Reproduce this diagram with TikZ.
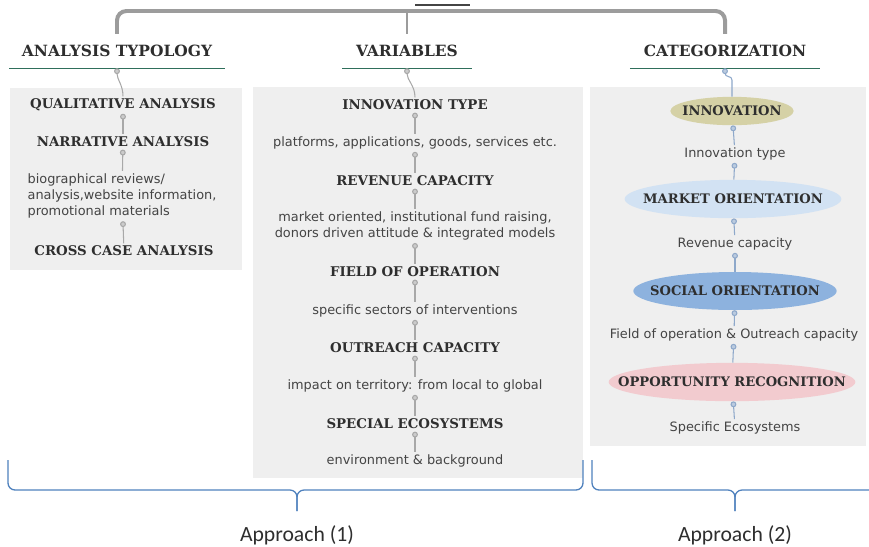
\documentclass[tikz,border=0pt]{standalone}
\usepackage{fontspec}
\setmainfont{DejaVu Sans}
\newfontfamily\serifbold{DejaVu Serif}
\newfontfamily\calibri{Carlito}
\usetikzlibrary{shapes.geometric,arrows.meta}

\definecolor{testo}{HTML}{2E2E2E}
\definecolor{grigio}{HTML}{444444}
\definecolor{pannello}{HTML}{EFEFEF}
\definecolor{barra}{HTML}{9C9C9C}
\definecolor{sottolinea}{HTML}{2F6F5B}
\definecolor{perno}{HTML}{A8A8A8}
\definecolor{pernoblu}{HTML}{8EA8CA}
\definecolor{graffa}{HTML}{4F81BD}
\definecolor{oliva}{HTML}{D5D1A6}
\definecolor{celeste}{HTML}{D2E2F3}
\definecolor{blu}{HTML}{8DB2DE}
\definecolor{rosa}{HTML}{F2CBCF}

\tikzset{
  titolo/.style={font=\serifbold\bfseries\fontsize{13.2}{15}\selectfont, text=testo,
    minimum height=1.02cm, inner sep=0pt},
  voce/.style={font=\serifbold\bfseries\fontsize{11.4}{13}\selectfont, text=testo, inner sep=2pt},
  nota/.style={font=\fontsize{11}{14}\selectfont, text=grigio, align=center, inner sep=2pt},
  ovale/.style={ellipse, voce, font=\serifbold\bfseries\fontsize{11.2}{13}\selectfont,
    inner xsep=-30pt, inner ysep=0pt},
  perno/.style={draw=perno, line width=0.9pt, {Circle[length=5pt,fill=perno!60]}-},
  pernoblu/.style={perno, draw=pernoblu, {Circle[length=5pt,fill=pernoblu!60]}-},
  graffa/.style={draw=graffa, line width=1.1pt, rounded corners=6pt},
}

\begin{document}
\begin{tikzpicture}[x=0.03cm, y=-0.03cm]
              \useasboundingbox (0,0) rectangle (869,546);

              \fill[pannello] (10,88) rectangle (242,270);
              \fill[pannello] (253,87) rectangle (583,478);
              \fill[pannello] (590,87) rectangle (866,446);

              \node [fill=grigio, minimum width=1.65cm, minimum height=0.06cm, inner sep=0pt] (radice) at (442,5) {};
              \coordinate (snodo) at (442,11);

              \node [titolo, minimum width=6.45cm] (titolo1) at (117,51) {ANALYSIS TYPOLOGY};
              \node [titolo, minimum width=3.87cm] (titolo2) at (407,51) {VARIABLES};
              \node [titolo, minimum width=5.7cm] (titolo3) at (725,51) {CATEGORIZATION};

              \node [voce] (analisi1) at (123,105) {QUALITATIVE ANALYSIS};
              \node [voce] (analisi2) at (123,142) {NARRATIVE ANALYSIS};
              \node [nota, align=left] (analisi3) at (122,196) {biographical reviews/\\analysis,website information,\\promotional materials};
              \node [voce] (analisi4) at (124,251) {CROSS CASE ANALYSIS};

              \node [voce] (variabile1) at (415,105) {INNOVATION TYPE};
              \node [nota] (variabile2) at (415,143) {platforms, applications, goods, services etc.};
              \node [voce] (variabile3) at (415,181) {REVENUE CAPACITY};
              \node [nota] (variabile4) at (415,226) {market oriented, institutional fund raising,\\donors driven attitude \& integrated models};
              \node [voce] (variabile5) at (415,272) {FIELD OF OPERATION};
              \node [nota] (variabile6) at (415,311) {specific sectors of interventions};
              \node [voce] (variabile7) at (415,348) {OUTREACH CAPACITY};
              \node [nota] (variabile8) at (415,386) {impact on territory: from local to global};
              \node [voce] (variabile9) at (415,424) {SPECIAL ECOSYSTEMS};
              \node [nota] (variabile10) at (415,461) {environment \& background};

              \node [ovale, fill=oliva, minimum width=3.7cm, minimum height=0.85cm] (categoria1) at (732,111) {INNOVATION};
              \node [nota] (categoria2) at (735,154) {Innovation type};
              \node [ovale, fill=celeste, minimum width=6.5cm, minimum height=1.15cm] (categoria3) at (733,199) {MARKET ORIENTATION};
              \node [nota] (categoria4) at (735,244) {Revenue capacity};
              \node [ovale, fill=blu, minimum width=6.1cm, minimum height=1.14cm] (categoria5) at (735,291) {SOCIAL ORIENTATION};
              \node [nota] (categoria6) at (734,335) {Field of operation \& Outreach capacity};
              \node [ovale, fill=rosa, minimum width=7.4cm, minimum height=1.15cm] (categoria7) at (732,382) {OPPORTUNITY RECOGNITION};
              \node [nota] (categoria8) at (735,428) {Specific Ecosystems};

              \node [font=\calibri\fontsize{18.5}{20}\selectfont, text=testo] (approccio1) at (297,535) {Approach (1)};
              \node [font=\calibri\fontsize{18.5}{20}\selectfont, text=testo] (approccio2) at (735,535) {Approach (2)};

              \coordinate (graffa1a) at (8,460);
              \coordinate (graffa1b) at (583,460);
              \coordinate (graffa2a) at (592,460);
              \coordinate (graffa2b) at (869,490);

              \draw [draw=barra, line width=3.4pt, rounded corners=8pt] (titolo1.north) |- (snodo) -| (titolo3.north);
              \draw [draw=barra, line width=0.9pt] (titolo2.north |- snodo) -- (titolo2.north);

              \draw [draw=sottolinea, line width=1pt] (titolo1.south west) -- (titolo1.south east);
              \draw [draw=sottolinea, line width=1pt] (titolo2.south west) -- (titolo2.south east);
              \draw [draw=sottolinea, line width=1pt] (titolo3.south west) -- (titolo3.south east);

              \draw [perno] (titolo1.south) to[out=-90, in=90] (analisi1);
              \draw [perno] (analisi1) -- (analisi2);
              \draw [perno] (analisi2) -- (analisi3);
              \draw [perno] (analisi3) -- (analisi4);

              \draw [perno] (titolo2.south) to[out=-90, in=90] (variabile1);
              \draw [perno] (variabile1) -- (variabile2);
              \draw [perno] (variabile2) -- (variabile3);
              \draw [perno] (variabile3) -- (variabile4);
              \draw [perno] (variabile4) -- (variabile5);
              \draw [perno] (variabile5) -- (variabile6);
              \draw [perno] (variabile6) -- (variabile7);
              \draw [perno] (variabile7) -- (variabile8);
              \draw [perno] (variabile8) -- (variabile9);
              \draw [perno] (variabile9) -- (variabile10);

              \draw [pernoblu, rounded corners=3pt] (titolo3.south) |- ([yshift=-0.25cm]titolo3.south -| categoria1.north) -- (categoria1.north);
              \draw [pernoblu] (categoria1) -- (categoria2);
              \draw [pernoblu] (categoria2) -- (categoria3);
              \draw [pernoblu] (categoria3) -- (categoria4);
              \draw [pernoblu] (categoria4) -- (categoria5);
              \draw [pernoblu] (categoria5) -- (categoria6);
              \draw [pernoblu] (categoria6) -- (categoria7);
              \draw [pernoblu] (categoria7) -- (categoria8);

              \draw [graffa] (graffa1a) |- (approccio1.north |- 0,490) -- ([yshift=0.3cm]approccio1.north);
              \draw [graffa] (graffa1b) |- (approccio1.north |- 0,490) -- ([yshift=0.3cm]approccio1.north);
              \draw [graffa] (graffa2a) |- (approccio2.north |- 0,490) -- ([yshift=0.3cm]approccio2.north);
              \draw [graffa] (graffa2b) -- (approccio2.north |- 0,490) -- ([yshift=0.3cm]approccio2.north);

            \end{tikzpicture}
\end{document}
